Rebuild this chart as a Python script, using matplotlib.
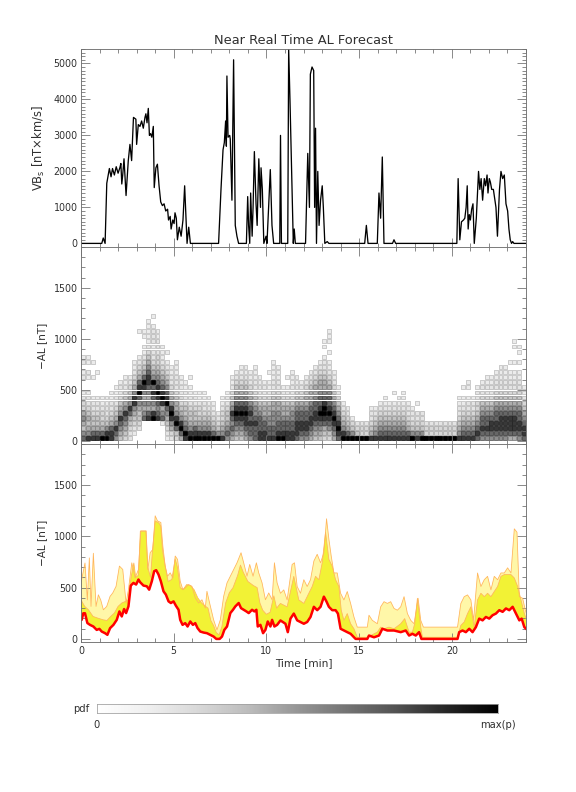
import numpy as np
import matplotlib
matplotlib.use("Agg")
import matplotlib.pyplot as plt
from matplotlib.ticker import MultipleLocator

# ---------------- data ----------------
# Top panel: VBs [nT x km/s] as (time [min], value) pairs
vbs_points = [
    (0, 0), (1.0, 0), (1.12, 0), (1.2, 150), (1.3, 0), (1.39, 1670), (1.53, 2080), (1.62, 1850),
    (1.7, 2080), (1.8, 1900), (1.9, 2130), (2.0, 1950), (2.1, 2110), (2.15, 2220), (2.2, 1650),
    (2.25, 1900), (2.32, 2350), (2.43, 1330), (2.55, 2300), (2.64, 2750), (2.73, 2300), (2.83, 3500),
    (2.96, 3450), (3.0, 2750), (3.09, 3300), (3.18, 3250), (3.27, 3400), (3.36, 3200), (3.45, 3500),
    (3.5, 3600), (3.56, 3350), (3.63, 3750), (3.69, 3000), (3.75, 3050), (3.82, 2950), (3.9, 3250),
    (3.95, 1550), (4.04, 2100), (4.12, 2200), (4.21, 1600), (4.3, 1150), (4.39, 1050), (4.48, 1100),
    (4.57, 900), (4.67, 950), (4.72, 650), (4.81, 750), (4.86, 400), (4.95, 650), (5.02, 550),
    (5.07, 850), (5.14, 700), (5.2, 100), (5.3, 450), (5.4, 200), (5.5, 650), (5.59, 1600), (5.72, 0),
    (5.81, 450), (5.9, 0),
    (7.42, 0), (7.55, 1500), (7.66, 2600), (7.73, 2800), (7.8, 3400), (7.84, 2700), (7.87, 4650),
    (7.93, 2950), (8.02, 3000), (8.05, 2900), (8.14, 1200), (8.23, 5100), (8.32, 500), (8.41, 200),
    (8.5, 0),
    (8.92, 0), (8.99, 1300), (9.04, 500), (9.1, 0), (9.15, 1400), (9.23, 200), (9.28, 1000),
    (9.35, 2550), (9.44, 1100), (9.5, 500), (9.59, 2350), (9.68, 1000), (9.71, 2100), (9.78, 1500),
    (9.86, 0), (9.98, 200), (10.03, 0), (10.21, 2050), (10.3, 500), (10.39, 0),
    (10.72, 0), (10.76, 3000), (10.81, 0), (11.15, 0), (11.2, 5400), (11.27, 4000), (11.36, 2000),
    (11.45, 0), (11.5, 400), (11.56, 0),
    (12.11, 0), (12.23, 2500), (12.32, 1000), (12.37, 4700), (12.46, 4900), (12.55, 4800),
    (12.6, 1000), (12.65, 3200), (12.7, 0), (12.77, 2000), (12.84, 500), (12.92, 1200), (13.01, 1600),
    (13.07, 1000), (13.15, 0), (13.28, 50), (13.37, 0),
    (15.3, 0), (15.39, 500), (15.48, 0), (15.98, 0), (16.07, 1400), (16.16, 700), (16.25, 2400),
    (16.34, 0), (16.8, 0), (16.88, 100), (16.97, 0),
    (20.27, 0), (20.34, 1800), (20.43, 100), (20.52, 600), (20.63, 650), (20.7, 700), (20.77, 1000),
    (20.83, 1600), (20.88, 400), (20.94, 800), (21.0, 650), (21.07, 950), (21.14, 1100), (21.21, 0),
    (21.32, 700), (21.44, 2000), (21.51, 1500), (21.58, 1800), (21.66, 1200), (21.75, 1800),
    (21.82, 1600), (21.9, 1900), (21.95, 1400), (22.02, 1800), (22.08, 1700), (22.15, 1500),
    (22.24, 1500), (22.38, 1000), (22.46, 200), (22.57, 1500), (22.65, 2000), (22.74, 1800),
    (22.83, 1900), (22.92, 1100), (23.01, 900), (23.08, 400), (23.15, 100), (23.22, 0), (23.28, 50),
    (23.35, 0), (24.0, 0),
]

# Middle panel: gridded forecast pdf of -AL, one string per 0.25-min column,
# characters = intensity (0 empty .. 9 max) in 50 nT bins starting at 0 nT.
pdf_cols = [
    "76456533210021021", "86545432210012011", "8754432210001001", "875443221000010",
    "9754332110", "9864322110", "8875432211", "67865432211",
    "456786543221", "3456786543211", "2234578654321", "0123456886543211",
    "0023445679875432100001", "0000765656897543211011", "000087565678876543211111",
    "0000985678796543221222101", "0000876789876543322211", "0001765898765432111",
    "123456798765432101", "2356898654322110", "3479865543222111", "5798654332211",
    "8976544322110", "9865443221101", "987544322100", "98654332110",
    "9865432211", "986543211", "97543211", "9643210",
    "8654332110", "6765443221", "5676786543211", "45678987654321",
    "456789876543211", "5678898765432110", "67787876543211", "777876654322111",
    "8877765432211", "887765543221", "87766554321101", "8776665543221111",
    "987766554322111", "98776554321", "8877655432101", "88776654322111",
    "7888776543211", "678877654321", "6788776554321", "56788776554321",
    "456788776554321", "4567898776554321", "34578998765543221011", "3467898776543211010111",
    "567898765432110", "78987654321", "98654321", "9754321",
    "96431", "9432", "9332", "9332",
    "8543221", "8654321", "87654321", "876543211",
    "87654321", "8765432101", "876543211", "8765432111",
    "87543221", "9643221", "86432201", "964322",
    "9332", "9332", "9332", "9332",
    "9332", "9332", "9332", "865432211",
    "87654321101", "876543221011", "8765432210", "78765433221",
    "678776543221", "6787765432211", "6788765432211", "67887765432211",
    "678887654322111", "678887654322111", "5788876543221101", "57888765432211010011",
    "6788776543221101011", "78876543211",
]

# Bottom panel: forecast curves of -AL [nT] as (time [min], value) pairs
low_points = [
    (0, 190), (0.036, 186), (0.126, 250), (0.216, 250), (0.342, 155), (0.486, 137), (0.667, 121),
    (0.847, 88), (0.991, 98), (1.117, 72), (1.297, 56), (1.423, 40), (1.568, 105), (1.748, 137),
    (1.928, 186), (2.072, 268), (2.198, 219), (2.324, 291), (2.432, 252), (2.559, 317), (2.685, 520),
    (2.829, 546), (2.973, 530), (3.099, 579), (3.189, 553), (3.369, 520), (3.55, 513), (3.676, 480),
    (3.82, 562), (3.946, 660), (4.054, 670), (4.18, 628), (4.306, 562), (4.45, 464), (4.577, 432),
    (4.721, 366), (4.847, 350), (4.991, 366), (5.117, 324), (5.261, 284), (5.351, 186), (5.477, 137),
    (5.622, 154), (5.748, 121), (5.892, 170), (6.036, 137), (6.162, 154), (6.288, 105), (6.432, 72),
    (6.613, 62), (6.793, 56), (6.973, 40), (7.153, 23), (7.297, 0), (7.477, 0), (7.604, 23),
    (7.73, 88), (7.874, 121), (8.054, 252), (8.198, 284), (8.324, 317), (8.505, 350), (8.631, 300),
    (8.775, 284), (8.919, 268), (9.045, 252), (9.225, 284), (9.351, 268), (9.459, 284), (9.532, 121),
    (9.676, 137), (9.82, 56), (9.946, 88), (10.072, 170), (10.216, 121), (10.306, 186), (10.432, 121),
    (10.577, 137), (10.757, 180), (11.027, 148), (11.153, 66), (11.297, 198), (11.477, 247),
    (11.658, 181), (11.838, 165), (12.018, 148), (12.198, 165), (12.378, 214), (12.559, 313),
    (12.739, 280), (12.919, 313), (13.099, 412), (13.243, 363), (13.369, 313), (13.55, 280),
    (13.73, 280), (13.856, 247), (14.0, 99), (14.18, 82), (14.36, 66), (14.541, 50), (14.721, 16),
    (14.811, 0), (15.441, 0), (15.532, 33), (15.802, 16), (16.072, 33), (16.252, 99), (16.523, 82),
    (16.883, 82), (17.243, 66), (17.514, 82), (17.694, 33), (17.874, 50), (18.054, 33), (18.234, 66),
    (18.36, 0), (20.306, 0), (20.396, 66), (20.577, 82), (20.757, 66), (20.937, 99), (21.117, 66),
    (21.297, 115), (21.477, 198), (21.658, 181), (21.838, 214), (22.018, 198), (22.198, 231),
    (22.378, 247), (22.559, 280), (22.739, 264), (22.919, 297), (23.099, 280), (23.279, 313),
    (23.459, 247), (23.64, 181), (23.766, 198), (23.91, 115), (24.0, 100),
]
mid_points = [
    (0, 380), (0.2, 317), (0.4, 284), (0.65, 219), (0.9, 203), (1.2, 186), (1.4, 180), (1.6, 219),
    (1.8, 252), (2.0, 317), (2.2, 350), (2.4, 366), (2.55, 382), (2.7, 600), (2.85, 740), (2.95, 600),
    (3.1, 620), (3.2, 1050), (3.5, 1050), (3.6, 700), (3.75, 600), (3.85, 850), (4.0, 1150),
    (4.2, 1130), (4.3, 1100), (4.4, 860), (4.55, 700), (4.7, 560), (4.9, 580), (5.08, 780),
    (5.2, 700), (5.35, 500), (5.5, 480), (5.7, 530), (5.9, 520), (6.1, 480), (6.3, 400), (6.5, 350),
    (6.7, 320), (6.85, 300), (7.0, 180), (7.15, 130), (7.3, 60), (7.45, 40), (7.6, 120), (7.8, 350),
    (8.0, 450), (8.2, 500), (8.45, 620), (8.6, 720), (8.75, 650), (9.0, 560), (9.3, 520), (9.5, 500),
    (9.65, 350), (9.8, 280), (10.0, 240), (10.2, 260), (10.4, 420), (10.55, 300), (10.757, 346),
    (11.117, 313), (11.477, 610), (11.748, 380), (12.018, 346), (12.198, 412), (12.468, 511),
    (12.649, 610), (12.829, 577), (13.009, 742), (13.189, 1040), (13.369, 775), (13.55, 709),
    (13.73, 577), (13.91, 511), (14.036, 280), (14.18, 181), (14.36, 247), (14.541, 148),
    (14.721, 99), (14.901, 16), (15.441, 16), (15.622, 33), (15.982, 66), (16.162, 115),
    (16.342, 99), (16.613, 115), (16.883, 99), (17.243, 148), (17.459, 198), (17.694, 66),
    (17.874, 66), (18.0, 150), (18.144, 396), (18.324, 115), (18.414, 16), (20.306, 16),
    (20.486, 132), (20.667, 165), (20.847, 247), (21.027, 313), (21.207, 115), (21.387, 380),
    (21.568, 445), (21.748, 412), (21.928, 445), (22.108, 412), (22.288, 462), (22.468, 511),
    (22.649, 610), (22.829, 627), (23.189, 627), (23.369, 594), (23.55, 511), (23.73, 380),
    (23.91, 247), (24.0, 200),
]
high_points = [
    (0, 560), (0.036, 580), (0.216, 740), (0.342, 380), (0.45, 790), (0.54, 317), (0.667, 835),
    (0.811, 317), (0.937, 430), (1.063, 380), (1.207, 284), (1.387, 317), (1.568, 415), (1.712, 448),
    (1.892, 513), (2.072, 710), (2.252, 677), (2.432, 350), (2.559, 480), (2.739, 742), (2.919, 595),
    (3.099, 677), (3.225, 1053), (3.514, 1053), (3.604, 677), (3.73, 840), (3.874, 873), (4.0, 1200),
    (4.126, 1150), (4.306, 1135), (4.414, 905), (4.541, 710), (4.667, 611), (4.811, 644),
    (4.955, 595), (5.081, 808), (5.207, 775), (5.351, 562), (5.495, 480), (5.622, 497), (5.802, 530),
    (5.982, 513), (6.162, 400), (6.342, 350), (6.523, 382), (6.703, 300), (6.793, 464), (6.937, 350),
    (7.153, 186), (7.333, 88), (7.514, 186), (7.694, 415), (7.874, 546), (8.054, 611), (8.234, 677),
    (8.414, 742), (8.631, 840), (8.775, 742), (8.955, 611), (9.099, 726), (9.279, 611), (9.459, 742),
    (9.586, 644), (9.766, 546), (9.946, 382), (10.126, 448), (10.306, 382), (10.432, 742),
    (10.577, 546), (10.757, 445), (10.937, 478), (11.117, 380), (11.387, 726), (11.514, 742),
    (11.658, 511), (11.838, 445), (12.018, 577), (12.198, 511), (12.378, 577), (12.559, 759),
    (12.739, 825), (12.919, 742), (13.099, 841), (13.243, 1171), (13.369, 973), (13.495, 808),
    (13.64, 643), (13.82, 643), (14.0, 445), (14.18, 380), (14.36, 462), (14.541, 346), (14.721, 214),
    (14.901, 115), (15.441, 115), (15.532, 231), (15.712, 181), (15.982, 148), (16.162, 313),
    (16.342, 363), (16.523, 346), (16.703, 363), (16.883, 297), (17.063, 280), (17.243, 313),
    (17.423, 412), (17.604, 247), (17.784, 181), (17.964, 148), (18.18, 396), (18.324, 181),
    (18.468, 115), (20.306, 115), (20.486, 346), (20.667, 412), (20.847, 429), (21.027, 380),
    (21.171, 181), (21.387, 643), (21.568, 511), (21.748, 577), (21.928, 610), (22.108, 478),
    (22.288, 610), (22.468, 577), (22.649, 643), (22.829, 643), (23.009, 693), (23.189, 643),
    (23.369, 1073), (23.514, 1040), (23.64, 412), (23.82, 396), (23.964, 280), (24.0, 260),
]

x_ticks = [0, 5, 10, 15, 20]
top_yticks = [0, 1000, 2000, 3000, 4000, 5000]
al_yticks = [0, 500, 1000, 1500]

vbs_t, vbs_v = map(np.array, zip(*vbs_points))
low_t, low_v = map(np.array, zip(*low_points))
mid_t, mid_v = map(np.array, zip(*mid_points))
high_t, high_v = map(np.array, zip(*high_points))

# ---------------- figure ----------------
plt.rcParams['font.family'] = ['DejaVu Sans']
fig = plt.figure(figsize=(8, 11), dpi=72)

L, W = 81 / 576, 445 / 576
def box(top_px, bot_px):
    return [L, 1 - bot_px / 792, W, (bot_px - top_px) / 792]

ax1 = fig.add_axes(box(49, 247))
ax2 = fig.add_axes(box(247, 444))
ax3 = fig.add_axes(box(444, 642))

spine_c = '#707070'
txt_c = '#303030'
for ax in (ax1, ax2, ax3):
    ax.set_xlim(0, 24)
    ax.xaxis.set_major_locator(MultipleLocator(5))
    ax.xaxis.set_minor_locator(MultipleLocator(1))
    ax.tick_params(which='both', direction='in', top=True, right=True, colors=spine_c,
                   labelcolor=txt_c, labelsize=9.5, width=0.8)
    ax.tick_params(which='major', length=9)
    ax.tick_params(which='minor', length=4)
    for s in ax.spines.values():
        s.set_color(spine_c)
        s.set_linewidth(0.9)
        s.set_zorder(5)

# top panel
ax1.plot(vbs_t, vbs_v, color='black', lw=1.3)
ax1.set_ylim(-100, 5400)
ax1.set_yticks(top_yticks)
ax1.yaxis.set_minor_locator(MultipleLocator(100))
ax1.tick_params(labelbottom=False)
ax1.set_ylabel('VB$_\\mathregular{s}$ [nT\u00d7km/s]', color=txt_c, fontsize=11.5)
fig.text(303 / 576, 1 - 40 / 792, 'Near Real Time AL Forecast', ha='center', va='center',
         fontsize=13, color=txt_c)

# middle panel: each pdf cell drawn as a small square symbol
xs, ys, lv = [], [], []
for i, col in enumerate(pdf_cols):
    for j, ch in enumerate(col):
        if ch != '0':
            xs.append((i + 0.5) * 24 / len(pdf_cols))
            ys.append(j * 50 + 25)
            lv.append(int(ch))
lv = np.array(lv, dtype=float)
frac = (lv - 1) / 8.0
edge_g = 0.78 * (1 - frac ** 1.6)
face_g = edge_g + (1 - edge_g) * 0.65 * (1 - frac)
ax2.scatter(xs, ys, marker='s', s=15,
            c=[(g, g, g) for g in face_g],
            edgecolors=[(g, g, g) for g in edge_g], linewidths=0.9, clip_on=True)
ax2.set_ylim(-30, 1900)
ax2.set_yticks(al_yticks)
ax2.yaxis.set_minor_locator(MultipleLocator(100))
ax2.tick_params(labelbottom=False)
ax2.set_ylabel('\u2212AL [nT]', color=txt_c, fontsize=10.5)

# bottom panel
pale = '#fff7a8'
bright = '#f2f235'
orange = '#ffb65c'
ax3.fill(np.concatenate([high_t, low_t[::-1]]), np.concatenate([high_v, low_v[::-1]]),
         color=pale, lw=0)
ax3.fill(np.concatenate([mid_t, low_t[::-1]]), np.concatenate([mid_v, low_v[::-1]]),
         color=bright, lw=0)
ax3.plot(high_t, high_v, color=orange, lw=0.8)
ax3.plot(mid_t, mid_v, color=orange, lw=0.8)
ax3.plot(low_t, low_v, color='#ff0000', lw=2.5)
ax3.set_ylim(-30, 1900)
ax3.set_yticks(al_yticks)
ax3.yaxis.set_minor_locator(MultipleLocator(100))
ax3.set_xticks(x_ticks)
ax3.set_ylabel('\u2212AL [nT]', color=txt_c, fontsize=10.5)
ax3.set_xlabel('Time [min]', color=txt_c, fontsize=10.5, labelpad=3)

for ax in (ax1, ax2, ax3):
    ax.yaxis.set_label_coords(-0.077, 0.5)

# colour bar
cax = fig.add_axes([97 / 576, 1 - 712.5 / 792, 401 / 576, 8.5 / 792])
cax.imshow(np.linspace(0, 1, 256)[None, :], cmap='Greys', aspect='auto',
           extent=[0, 1, 0, 1], vmin=0, vmax=1)
cax.set_xticks([])
cax.set_yticks([])
for s in cax.spines.values():
    s.set_color('#a0a0a0')
    s.set_linewidth(0.8)
fig.text(89 / 576, 1 - 709 / 792, 'pdf', ha='right', va='center', fontsize=10, color=txt_c)
fig.text(97 / 576, 1 - 725 / 792, '0', ha='center', va='center', fontsize=10, color=txt_c)
fig.text(498 / 576, 1 - 725 / 792, 'max(p)', ha='center', va='center', fontsize=10, color=txt_c)

fig.savefig('out.png', dpi=72, facecolor='white')
